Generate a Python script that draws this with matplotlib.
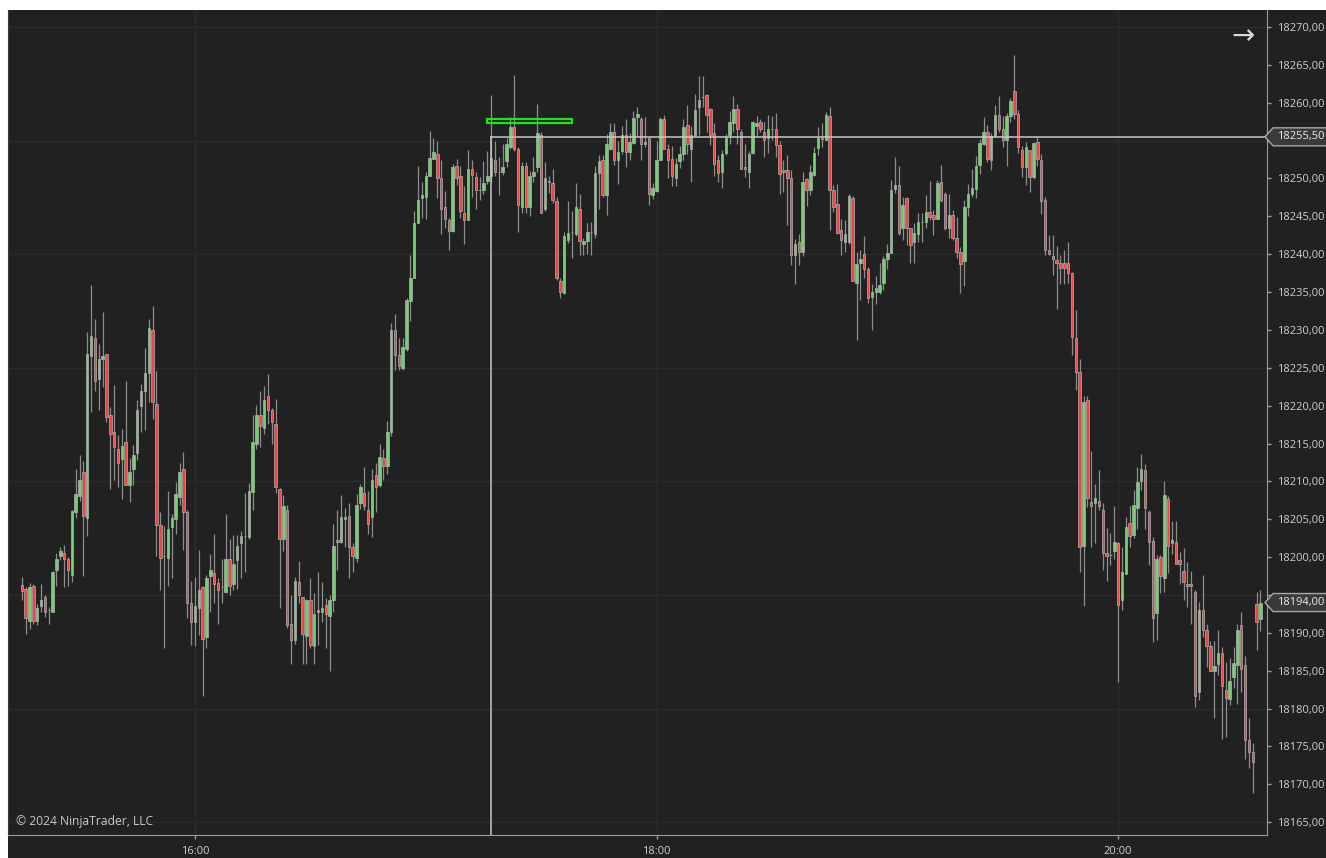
import matplotlib
matplotlib.use("Agg")
import matplotlib.pyplot as plt
import matplotlib.transforms as mtransforms
from matplotlib.patches import Polygon, Rectangle
import numpy as np

# 1-minute bars, first bar at 15:15
start_minute = 15 * 60 + 15

opens = [
    18196.3, 18195.8, 18191.5, 18196.2, 18191.5, 18193.5, 18194.7, 18193.0, 18192.8, 18198.3,
    18200.2, 18200.5, 18199.8, 18197.7, 18206.0, 18208.1, 18211.3, 18205.2, 18226.5, 18229.0,
    18223.5, 18226.1, 18226.8, 18218.7, 18216.5, 18214.3, 18213.0, 18215.2, 18209.5, 18211.7,
    18213.7, 18220.0, 18222.0, 18224.3, 18230.0, 18220.2, 18204.2, 18200.2, 18199.9, 18204.0,
    18205.0, 18208.0, 18211.7, 18206.0, 18193.9, 18191.4, 18193.3, 18196.0, 18189.5, 18197.5,
    18197.9, 18196.6, 18196.0, 18195.4, 18199.7, 18196.5, 18199.6, 18201.8, 18202.8, 18202.7,
    18208.6, 18215.0, 18218.7, 18217.0, 18221.3, 18219.4, 18217.6, 18209.0, 18202.4, 18206.2,
    18191.1, 18189.0, 18196.7, 18194.7, 18189.6, 18194.4, 18188.3, 18192.8, 18192.8, 18193.7,
    18192.2, 18194.3, 18202.2, 18202.0, 18205.0, 18205.4, 18201.3, 18199.9, 18207.2, 18208.5,
    18206.2, 18205.3, 18210.9, 18209.5, 18213.1, 18212.0, 18216.5, 18230.0, 18226.7, 18225.0,
    18227.5, 18233.8, 18236.9, 18244.1, 18247.4, 18247.5, 18250.3, 18252.6, 18253.2, 18250.0,
    18246.2, 18244.5, 18243.0, 18251.7, 18250.3, 18245.4, 18244.5, 18251.2, 18250.2, 18248.5,
    18248.5, 18249.7, 18250.3, 18252.5, 18250.9, 18250.9, 18252.3, 18254.1, 18256.8, 18253.9,
    18246.2, 18251.7, 18246.3, 18250.3, 18251.5, 18255.7, 18246.0, 18249.7, 18249.4, 18247.0,
    18236.5, 18234.9, 18241.9, 18242.9, 18242.7, 18246.0, 18241.3, 18241.7, 18242.9, 18242.7,
    18250.7, 18252.4, 18247.8, 18253.9, 18256.2, 18252.4, 18253.6, 18255.7, 18253.5, 18254.7,
    18258.1, 18257.9, 18254.5, 18255.3, 18247.8, 18248.4, 18252.5, 18257.9, 18253.9, 18252.6,
    18250.0, 18252.3, 18253.2, 18257.0, 18253.9, 18255.7, 18259.4, 18260.8, 18261.0, 18259.2,
    18256.0, 18252.5, 18250.9, 18253.4, 18255.7, 18257.3, 18259.2, 18256.2, 18251.5, 18250.9,
    18253.4, 18256.9, 18257.4, 18256.2, 18255.3, 18256.6, 18256.6, 18254.4, 18251.1, 18251.1,
    18250.1, 18239.9, 18241.6, 18240.3, 18249.9, 18248.5, 18250.5, 18254.0, 18255.4, 18255.1,
    18258.2, 18248.5, 18246.6, 18243.2, 18241.6, 18241.6, 18247.4, 18236.2, 18238.9, 18240.0,
    18238.1, 18234.3, 18235.0, 18235.0, 18236.2, 18239.4, 18240.2, 18248.6, 18249.2, 18243.4,
    18247.4, 18243.4, 18241.6, 18242.7, 18244.2, 18244.3, 18245.6, 18245.2, 18244.7, 18249.6,
    18247.9, 18243.4, 18245.2, 18242.1, 18240.3, 18239.1, 18246.2, 18248.0, 18248.6, 18251.8,
    18254.6, 18256.2, 18252.4, 18255.6, 18258.4, 18256.6, 18255.1, 18258.2, 18261.5, 18258.5,
    18253.7, 18251.5, 18253.7, 18250.2, 18254.8, 18252.4, 18247.2, 18240.6, 18239.7, 18239.2,
    18238.9, 18238.9, 18238.9, 18237.5, 18228.9, 18224.4, 18201.4, 18220.8, 18207.3, 18207.1,
    18207.4, 18206.2, 18200.6, 18200.3, 18200.8, 18201.8, 18194.4, 18197.8, 18204.5, 18202.9,
    18206.5, 18210.1, 18211.5, 18206.0, 18202.1, 18192.6, 18200.0, 18197.2, 18207.7, 18201.8,
    18202.0, 18199.6, 18198.2, 18196.5, 18196.5, 18195.4, 18182.2, 18193.0, 18190.4, 18188.2,
    18185.0, 18185.9, 18187.4, 18182.5, 18181.2, 18184.1, 18185.8, 18191.0, 18185.8, 18175.8,
    18174.2, 18193.8, 18191.8,
]

highs = [
    18197.4, 18196.0, 18196.6, 18196.5, 18193.8, 18196.4, 18195.0, 18193.4, 18198.1, 18200.6,
    18201.3, 18201.6, 18200.0, 18206.2, 18211.7, 18213.5, 18212.7, 18229.7, 18235.9, 18231.4,
    18228.2, 18232.4, 18226.8, 18219.8, 18222.7, 18216.1, 18216.9, 18223.2, 18213.1, 18214.8,
    18220.7, 18222.9, 18227.6, 18231.4, 18233.1, 18224.6, 18206.0, 18204.1, 18208.7, 18205.7,
    18209.9, 18212.4, 18213.9, 18206.2, 18196.8, 18197.4, 18200.9, 18196.2, 18197.6, 18200.4,
    18203.1, 18197.2, 18199.8, 18205.7, 18202.4, 18202.9, 18202.9, 18203.4, 18208.4, 18209.8,
    18218.7, 18220.1, 18222.0, 18222.6, 18224.2, 18219.7, 18220.9, 18209.1, 18208.2, 18206.9,
    18195.0, 18197.4, 18199.5, 18194.7, 18194.5, 18197.2, 18195.2, 18198.0, 18196.7, 18194.6,
    18195.0, 18204.4, 18206.2, 18208.2, 18206.5, 18207.2, 18201.9, 18208.3, 18209.7, 18211.9,
    18208.7, 18211.6, 18212.4, 18214.9, 18214.3, 18218.0, 18230.9, 18232.1, 18228.9, 18228.9,
    18234.2, 18239.9, 18245.7, 18251.6, 18249.6, 18250.9, 18256.3, 18255.4, 18254.9, 18252.4,
    18248.4, 18244.8, 18251.9, 18252.6, 18251.6, 18249.0, 18253.7, 18252.4, 18250.9, 18250.2,
    18252.3, 18253.6, 18261.0, 18254.9, 18252.9, 18254.5, 18255.4, 18258.1, 18263.7, 18254.1,
    18252.2, 18252.2, 18251.0, 18252.9, 18259.8, 18256.1, 18252.2, 18250.3, 18251.2, 18247.6,
    18236.8, 18242.9, 18247.0, 18245.7, 18249.4, 18247.9, 18242.1, 18244.1, 18244.3, 18251.6,
    18253.1, 18253.1, 18255.9, 18257.3, 18257.3, 18254.9, 18256.9, 18257.9, 18256.0, 18258.9,
    18259.4, 18258.1, 18258.1, 18255.4, 18249.4, 18254.9, 18258.1, 18258.4, 18254.5, 18254.3,
    18252.7, 18254.3, 18257.8, 18259.7, 18256.9, 18261.1, 18263.6, 18263.6, 18261.1, 18259.3,
    18257.3, 18253.1, 18253.7, 18255.9, 18258.9, 18260.9, 18259.8, 18256.5, 18254.5, 18253.6,
    18257.6, 18258.2, 18257.9, 18257.5, 18258.4, 18258.2, 18258.6, 18254.9, 18252.4, 18253.1,
    18251.1, 18242.0, 18242.7, 18250.8, 18250.1, 18251.8, 18254.1, 18256.8, 18257.3, 18258.8,
    18259.4, 18249.1, 18249.3, 18244.7, 18244.5, 18248.0, 18247.7, 18240.3, 18240.6, 18242.4,
    18238.3, 18236.1, 18237.1, 18238.8, 18239.7, 18241.4, 18249.8, 18252.8, 18251.6, 18247.6,
    18247.6, 18243.4, 18244.1, 18245.5, 18245.5, 18247.8, 18249.7, 18245.8, 18249.8, 18251.8,
    18248.2, 18248.0, 18245.9, 18244.9, 18241.0, 18247.1, 18249.3, 18251.3, 18253.0, 18255.2,
    18258.1, 18257.1, 18256.0, 18259.7, 18260.9, 18258.2, 18258.7, 18260.6, 18266.3, 18259.0,
    18254.3, 18254.8, 18253.8, 18254.8, 18255.5, 18253.2, 18247.5, 18242.6, 18242.6, 18241.1,
    18239.9, 18240.6, 18241.6, 18237.7, 18232.6, 18226.2, 18221.3, 18221.3, 18214.0, 18209.7,
    18211.5, 18207.2, 18203.8, 18203.2, 18206.7, 18202.0, 18201.3, 18205.3, 18206.8, 18208.9,
    18211.9, 18213.6, 18212.3, 18206.2, 18202.6, 18200.3, 18200.3, 18210.0, 18208.1, 18204.8,
    18204.8, 18200.7, 18201.2, 18199.4, 18198.1, 18195.6, 18194.1, 18197.6, 18191.1, 18188.9,
    18188.9, 18190.4, 18188.1, 18186.1, 18186.7, 18188.1, 18191.1, 18192.8, 18186.9, 18178.7,
    18175.5, 18195.4, 18195.6,
]

lows = [
    18194.3, 18189.9, 18190.5, 18191.2, 18191.0, 18192.8, 18192.1, 18191.2, 18192.8, 18196.2,
    18199.6, 18196.1, 18196.2, 18196.7, 18205.2, 18207.4, 18197.5, 18202.8, 18219.2, 18222.0,
    18219.4, 18222.5, 18217.9, 18209.0, 18210.2, 18209.3, 18207.7, 18209.5, 18207.3, 18209.5,
    18212.8, 18216.5, 18216.8, 18220.5, 18218.2, 18200.2, 18195.7, 18188.0, 18196.2, 18197.2,
    18203.0, 18206.9, 18201.0, 18192.0, 18188.4, 18188.2, 18189.7, 18181.7, 18188.0, 18192.7,
    18194.0, 18191.2, 18193.9, 18195.2, 18195.0, 18195.7, 18195.8, 18197.2, 18198.0, 18202.4,
    18206.2, 18214.3, 18214.5, 18216.2, 18217.6, 18215.0, 18208.5, 18193.3, 18200.8, 18190.6,
    18185.9, 18188.5, 18194.0, 18185.9, 18185.9, 18188.0, 18185.9, 18188.4, 18191.4, 18188.0,
    18184.9, 18192.8, 18198.3, 18201.8, 18201.3, 18197.2, 18198.0, 18199.3, 18206.4, 18206.2,
    18203.0, 18202.7, 18206.0, 18209.3, 18210.2, 18211.0, 18216.0, 18224.7, 18224.7, 18224.7,
    18227.2, 18231.2, 18236.9, 18244.1, 18244.8, 18244.7, 18250.3, 18252.6, 18247.4, 18242.7,
    18243.5, 18240.5, 18242.9, 18249.1, 18244.8, 18241.3, 18244.5, 18247.5, 18246.0, 18247.2,
    18247.9, 18249.3, 18249.5, 18250.3, 18247.8, 18250.5, 18251.5, 18253.9, 18253.6, 18242.9,
    18245.4, 18245.4, 18245.0, 18249.6, 18250.9, 18245.4, 18245.7, 18248.1, 18246.8, 18236.6,
    18234.2, 18234.7, 18241.5, 18239.5, 18242.4, 18239.9, 18239.9, 18240.0, 18239.9, 18242.2,
    18246.0, 18247.6, 18245.2, 18253.7, 18251.8, 18249.3, 18253.2, 18251.5, 18252.5, 18254.5,
    18255.6, 18252.4, 18254.1, 18246.5, 18247.3, 18248.2, 18252.4, 18253.9, 18250.0, 18249.0,
    18249.0, 18251.4, 18252.5, 18253.2, 18249.5, 18255.6, 18255.7, 18259.4, 18256.2, 18254.4,
    18250.3, 18249.6, 18248.7, 18253.1, 18254.6, 18256.2, 18254.5, 18251.2, 18250.2, 18248.7,
    18253.2, 18255.6, 18256.2, 18252.9, 18253.3, 18255.1, 18252.9, 18248.0, 18248.2, 18243.8,
    18238.6, 18236.1, 18238.6, 18239.7, 18246.4, 18247.8, 18250.3, 18253.1, 18254.1, 18255.1,
    18243.2, 18245.6, 18242.7, 18239.9, 18240.3, 18241.4, 18236.4, 18228.7, 18233.9, 18236.9,
    18233.6, 18230.0, 18233.4, 18234.7, 18235.3, 18238.1, 18240.1, 18248.1, 18242.5, 18241.9,
    18241.2, 18238.8, 18238.8, 18241.6, 18241.6, 18243.4, 18244.5, 18242.5, 18244.6, 18246.9,
    18243.2, 18242.1, 18241.9, 18239.5, 18234.9, 18235.8, 18245.0, 18247.6, 18247.4, 18250.6,
    18254.4, 18252.2, 18251.1, 18255.6, 18256.2, 18254.1, 18251.6, 18257.5, 18257.8, 18253.3,
    18250.2, 18249.2, 18248.2, 18249.9, 18251.6, 18245.3, 18239.9, 18239.9, 18237.2, 18232.8,
    18236.0, 18236.0, 18236.2, 18226.7, 18222.1, 18198.0, 18193.5, 18206.6, 18201.3, 18201.8,
    18206.2, 18198.3, 18196.9, 18199.0, 18199.8, 18183.5, 18193.0, 18197.8, 18201.3, 18202.5,
    18203.7, 18208.9, 18203.7, 18198.9, 18188.8, 18189.1, 18195.2, 18195.4, 18197.9, 18200.4,
    18199.1, 18196.5, 18194.4, 18193.4, 18191.2, 18180.2, 18181.1, 18189.4, 18185.5, 18184.9,
    18178.7, 18184.4, 18176.0, 18176.3, 18180.5, 18182.7, 18180.6, 18182.2, 18173.4, 18172.2,
    18168.9, 18187.7, 18190.3,
]

closes = [
    18195.5, 18192.0, 18196.0, 18191.5, 18193.3, 18194.3, 18192.8, 18193.0, 18198.0, 18199.8,
    18200.8, 18199.7, 18198.3, 18206.1, 18208.3, 18210.2, 18205.4, 18226.8, 18229.2, 18223.2,
    18226.1, 18226.5, 18218.5, 18216.2, 18214.5, 18212.4, 18214.7, 18209.5, 18211.3, 18213.5,
    18219.4, 18222.0, 18224.3, 18230.2, 18220.5, 18204.2, 18199.9, 18200.2, 18203.7, 18205.2,
    18208.3, 18211.3, 18206.0, 18193.9, 18191.4, 18193.5, 18195.7, 18189.2, 18197.2, 18198.3,
    18196.5, 18195.7, 18196.0, 18199.8, 18196.2, 18199.1, 18201.5, 18202.8, 18202.8, 18208.7,
    18215.2, 18218.7, 18217.3, 18220.7, 18219.4, 18217.8, 18209.3, 18202.4, 18206.8, 18191.0,
    18189.1, 18196.9, 18195.0, 18189.8, 18194.3, 18188.4, 18192.5, 18193.0, 18193.3, 18192.5,
    18194.3, 18201.5, 18202.0, 18205.3, 18205.3, 18201.3, 18200.2, 18206.9, 18209.3, 18206.8,
    18204.4, 18210.2, 18209.3, 18213.2, 18212.0, 18216.5, 18230.0, 18226.7, 18225.2, 18227.8,
    18234.0, 18236.9, 18244.1, 18247.2, 18247.8, 18250.3, 18252.7, 18253.5, 18250.0, 18246.0,
    18244.7, 18243.0, 18251.5, 18250.0, 18245.7, 18244.5, 18251.2, 18250.4, 18248.5, 18248.5,
    18249.4, 18250.3, 18252.7, 18250.9, 18250.9, 18251.5, 18254.5, 18256.8, 18253.9, 18246.5,
    18251.7, 18246.2, 18250.3, 18250.9, 18256.0, 18245.4, 18250.0, 18249.5, 18247.2, 18236.8,
    18235.0, 18242.4, 18242.8, 18242.9, 18246.3, 18241.7, 18241.7, 18242.9, 18242.9, 18250.7,
    18252.3, 18247.8, 18254.6, 18256.2, 18252.5, 18253.5, 18255.7, 18253.5, 18254.8, 18258.0,
    18258.5, 18254.5, 18254.8, 18248.0, 18248.7, 18252.5, 18257.8, 18253.9, 18252.4, 18250.3,
    18251.9, 18253.2, 18256.8, 18254.5, 18255.7, 18259.0, 18260.4, 18260.8, 18258.4, 18255.7,
    18251.9, 18250.7, 18253.2, 18255.4, 18257.5, 18259.2, 18256.5, 18251.2, 18251.2, 18253.2,
    18257.5, 18257.3, 18256.6, 18255.1, 18256.6, 18256.5, 18254.4, 18250.6, 18250.9, 18250.1,
    18239.9, 18241.4, 18240.3, 18249.6, 18248.5, 18250.9, 18253.4, 18255.4, 18255.2, 18258.4,
    18248.5, 18246.2, 18242.8, 18241.9, 18242.7, 18247.7, 18236.4, 18238.7, 18239.4, 18238.1,
    18234.2, 18235.0, 18235.5, 18235.9, 18239.4, 18240.2, 18248.5, 18249.2, 18242.8, 18246.5,
    18243.4, 18241.2, 18242.8, 18244.3, 18244.3, 18245.6, 18244.9, 18244.7, 18249.4, 18247.2,
    18243.4, 18245.2, 18242.1, 18240.3, 18238.7, 18246.2, 18248.0, 18248.7, 18251.6, 18254.7,
    18256.2, 18252.6, 18255.6, 18258.4, 18256.5, 18255.1, 18258.2, 18260.2, 18258.5, 18254.2,
    18251.5, 18254.2, 18250.2, 18254.7, 18252.6, 18247.0, 18240.6, 18240.0, 18239.4, 18238.9,
    18238.2, 18238.2, 18237.5, 18229.1, 18224.4, 18201.3, 18220.5, 18207.8, 18206.8, 18207.8,
    18206.8, 18200.6, 18200.1, 18200.3, 18202.0, 18193.7, 18198.0, 18204.0, 18202.8, 18206.9,
    18209.9, 18211.7, 18206.5, 18202.0, 18191.9, 18199.8, 18197.5, 18208.2, 18201.5, 18202.3,
    18199.1, 18199.1, 18196.7, 18196.2, 18196.2, 18181.7, 18193.0, 18190.4, 18188.2, 18185.0,
    18185.6, 18187.4, 18183.0, 18181.4, 18183.7, 18186.0, 18190.4, 18185.2, 18175.8, 18174.2,
    18172.9, 18191.4, 18194.0,
]

price_ticks = list(range(18165, 18271, 5))
grid_prices = list(range(18165, 18271, 15))

# drawing objects on the chart
line_bar = 122
line_price = 18255.5
zone_bars = [121, 143]
zone_prices = [18257.3, 18257.9]

bg = "#212121"
grid_col = "#2c2c2c"
axis_col = "#9c9c9c"
text_col = "#cfcfcf"
up_col = "#72d272"
down_col = "#f04545"
flat_col = "#b8b8b8"
wick_col = "#9a9a9a"
edge_col = "#b0b0b0"

plt.rcParams["font.family"] = ["Open Sans", "DejaVu Sans"]

W, H = 1326, 858
fig = plt.figure(figsize=(W / 100, H / 100), dpi=100, facecolor="white")
fig.patches.append(Rectangle((8 / W, 0), 1, 1 - 10 / H, transform=fig.transFigure,
                             facecolor=bg, edgecolor="none", zorder=-10))
ax = fig.add_axes([8 / W, 23 / H, 1259 / W, 825 / H])
ax.set_facecolor(bg)

o = np.array(opens)
h = np.array(highs)
l = np.array(lows)
c = np.array(closes)
x = np.arange(len(o))

colors = np.where(c > o, up_col, np.where(c < o, down_col, flat_col))

for gp in grid_prices:
    ax.axhline(gp, color=grid_col, lw=1, zorder=0)

minutes = start_minute + x
hour_idx = x[minutes % 120 == 0]
hour_labels = ["%d:%02d" % (m // 60, m % 60) for m in minutes[hour_idx]]
for hi in hour_idx:
    ax.axvline(hi, color=grid_col, lw=1, zorder=0)

ax.vlines(x, l, h, color=wick_col, lw=0.9, alpha=0.9, zorder=2)
ax.bar(x, c - o, bottom=o, width=0.64, color=colors, edgecolor=edge_col,
       linewidth=0.5, zorder=3)

# drawn lines: horizontal ray to the right and vertical to the bottom
ax.plot([line_bar, 400], [line_price, line_price], color="#c8c8c8", lw=1.1, zorder=4)
ax.plot([line_bar, line_bar], [line_price, 18100], color="#c8c8c8", lw=1.1, zorder=4)

ax.add_patch(Rectangle((zone_bars[0], zone_prices[0]), zone_bars[1] - zone_bars[0],
                       zone_prices[1] - zone_prices[0], facecolor="none",
                       edgecolor="#22e022", lw=1.6, zorder=5))

ax.set_xlim(-3.6, 323.7)
ax.set_ylim(18163.3, 18272.25)

# labels hidden behind the price markers are left blank
marker_prices = [line_price, closes[-1]]
ylabels = []
for p in price_ticks:
    if any(abs(p - mp) < 2.0 for mp in marker_prices):
        ylabels.append("")
    else:
        ylabels.append(("%.2f" % p).replace(".", ","))

ax.yaxis.tick_right()
ax.set_yticks(price_ticks)
ax.set_yticklabels(ylabels)
ax.set_xticks(hour_idx)
ax.set_xticklabels(hour_labels)
ax.tick_params(axis="y", length=3, width=1, color=axis_col, pad=4,
               labelsize=8, labelcolor=text_col)
ax.tick_params(axis="x", length=3, width=1, color=axis_col, pad=5,
               labelsize=8, labelcolor=text_col)

ax.spines["top"].set_visible(False)
ax.spines["left"].set_color("#3a3a3a")
ax.spines["right"].set_color(axis_col)
ax.spines["bottom"].set_color(axis_col)

# price markers on the right axis
trans = mtransforms.blended_transform_factory(fig.transFigure, ax.transData)
half = 9 / 7.571
for p in marker_prices:
    poly = Polygon([(1265 / W, p), (1273 / W, p + half), (1.01, p + half),
                    (1.01, p - half), (1273 / W, p - half)], closed=True,
                   transform=trans, facecolor="#3a3a3a", edgecolor="#a8a8a8",
                   lw=1, zorder=20, clip_on=False)
    ax.add_artist(poly)
    ax.text(1277 / W, p, ("%.2f" % p).replace(".", ","), transform=trans,
            color="#ececec", fontsize=8, va="center", ha="left", zorder=21,
            clip_on=False)

fig.text(1243 / W, 1 - 36 / H, "\u2192", color="#d8d8d8", fontsize=20,
         ha="center", va="center", family="DejaVu Sans")
fig.text(16 / W, 1 - 822 / H, "\u00a9 2024 NinjaTrader, LLC", color="#c8c8c8",
         fontsize=8.7, ha="left", va="center")

fig.savefig("out.png", dpi=100, facecolor="white")
